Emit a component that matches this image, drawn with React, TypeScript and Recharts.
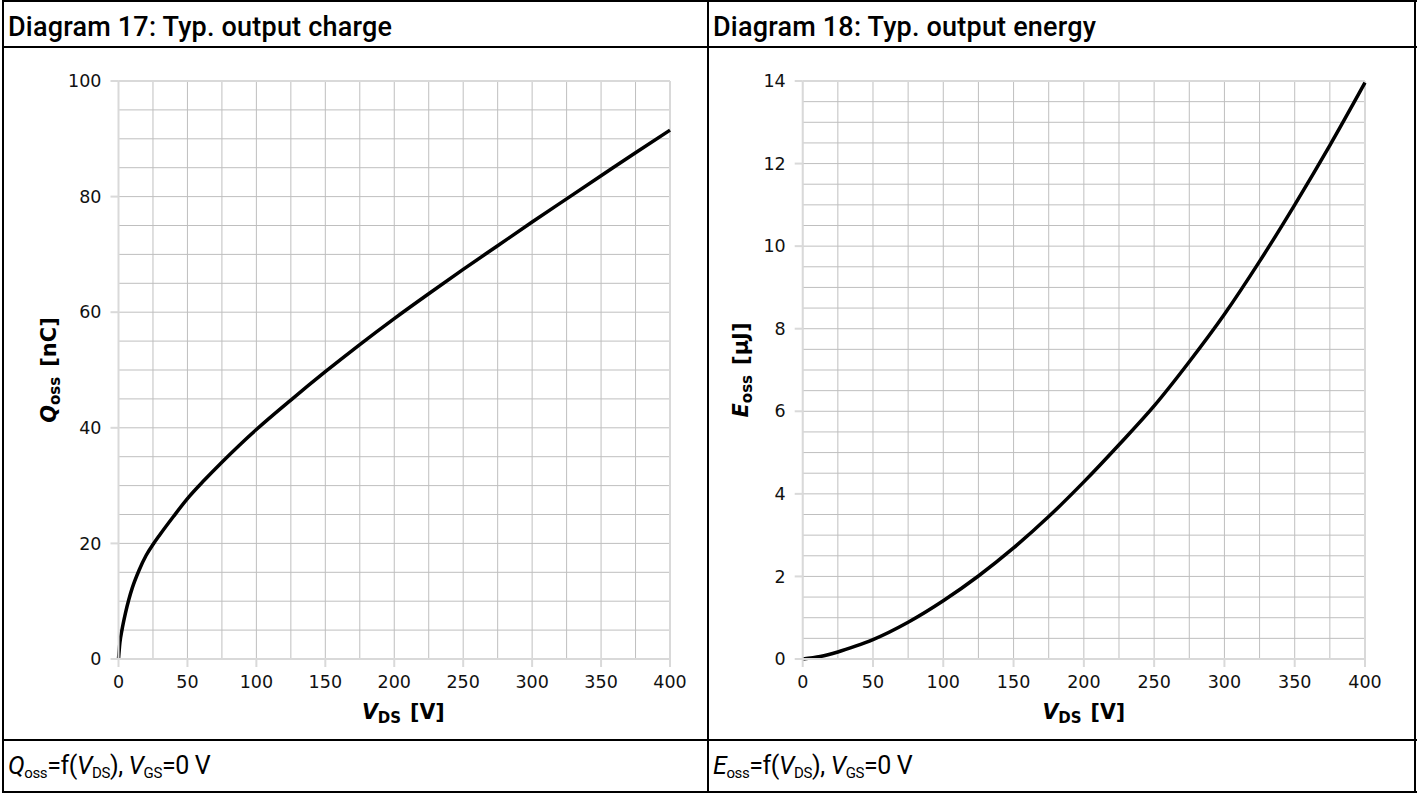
import { LineChart, Line, XAxis, YAxis, CartesianGrid } from "recharts";

// Diagram 17: output charge vs drain-source voltage
const vdsQ = [0, 1, 2.5, 5, 7.5, 10, 15, 20, 25, 30, 40, 50, 62.5, 75, 87.5, 100, 125, 150, 175, 200, 225, 250, 275, 300, 325, 350, 375, 400];
const qoss = [0, 2.8, 5.0, 7.9, 10.3, 12.3, 15.4, 17.9, 19.8, 21.5, 24.7, 27.75, 31.0, 34.05, 36.95, 39.7, 44.8, 49.7, 54.4, 58.9, 63.2, 67.4, 71.5, 75.6, 79.6, 83.6, 87.6, 91.5];

// Diagram 18: output energy vs drain-source voltage
const vdsE = [0, 12.5, 25, 37.5, 50, 75, 100, 125, 150, 175, 200, 225, 250, 275, 300, 325, 350, 375, 400];
const eoss = [0, 0.06, 0.17, 0.31, 0.47, 0.89, 1.41, 2.01, 2.69, 3.45, 4.29, 5.19, 6.13, 7.2, 8.35, 9.63, 11.0, 12.44, 13.96];

const xTicks = [0, 50, 100, 150, 200, 250, 300, 350, 400];
const xMinor = [0, 25, 50, 75, 100, 125, 150, 175, 200, 225, 250, 275, 300, 325, 350, 375, 400];
const qTicks = [0, 20, 40, 60, 80, 100];
const qMinor = [0, 5, 10, 15, 20, 25, 30, 35, 40, 45, 50, 55, 60, 65, 70, 75, 80, 85, 90, 95, 100];
const eTicks = [0, 2, 4, 6, 8, 10, 12, 14];
const eMinor = [0, 0.5, 1, 1.5, 2, 2.5, 3, 3.5, 4, 4.5, 5, 5.5, 6, 6.5, 7, 7.5, 8, 8.5, 9, 9.5, 10, 10.5, 11, 11.5, 12, 12.5, 13, 13.5, 14];

const qData = vdsQ.map((v, i) => ({ v, y: qoss[i] }));
const eData = vdsE.map((v, i) => ({ v, y: eoss[i] }));

const MINOR = "#bfbfbf";
const FRAME = "#d9d9d9";
const TICK_FONT = { fontFamily: "DejaVu Sans", fontSize: 17.5, fill: "#111" };
const COND = "Roboto, 'Noto Sans', sans-serif";

function xTitle(shift: number) {
  return (props: any) => {
    const vb = props.viewBox || {};
    const cx = vb.x + vb.width / 2 + shift;
    return (
      <text x={cx} y={vb.y + 60} textAnchor="middle" fontFamily="DejaVu Sans" fontWeight="bold" fontSize={20.5} fill="#000">
        <tspan fontStyle="italic">V</tspan>
        <tspan fontSize={15} dy={4}>DS</tspan>
        <tspan dy={-4} dx={9}>[V]</tspan>
      </text>
    );
  };
}

function yTitle(sym: string, unit: string, bx: number) {
  return (props: any) => {
    const vb = props.viewBox || {};
    const cy = vb.y + vb.height / 2;
    return (
      <text
        x={bx}
        y={cy}
        textAnchor="middle"
        transform={`rotate(-90, ${bx}, ${cy})`}
        fontFamily="DejaVu Sans"
        fontWeight="bold"
        fontSize={21}
        fill="#000"
      >
        <tspan fontStyle="italic">{sym}</tspan>
        <tspan fontSize={15} dy={4}>oss</tspan>
        <tspan dy={-4} dx={10}>{unit}</tspan>
      </text>
    );
  };
}

interface PanelProps {
  data: { v: number; y: number }[];
  width: number;
  height: number;
  margin: { top: number; right: number; bottom: number; left: number };
  yWidth: number;
  yTicks: number[];
  yMinor: number[];
  yMax: number;
  yLabel: (p: any) => any;
  xLabel: (p: any) => any;
}

function Panel({ data, width, height, margin, yWidth, yTicks, yMinor, yMax, yLabel, xLabel }: PanelProps) {
  return (
    <LineChart width={width} height={height} data={data} margin={margin}>
      <CartesianGrid stroke={MINOR} strokeWidth={1} horizontalValues={yMinor} verticalValues={xMinor} />
      <CartesianGrid stroke={FRAME} strokeWidth={2} horizontalValues={[yMax]} verticalValues={[400]} />
      <XAxis
        dataKey="v"
        type="number"
        domain={[0, 400]}
        ticks={xTicks}
        interval={0}
        height={80}
        stroke={FRAME}
        strokeWidth={2}
        tickSize={8}
        tickMargin={9}
        tick={TICK_FONT}
        label={xLabel}
      />
      <YAxis
        type="number"
        domain={[0, yMax]}
        ticks={yTicks}
        interval={0}
        width={yWidth}
        stroke={FRAME}
        strokeWidth={2}
        tickSize={8}
        tickMargin={9}
        tick={TICK_FONT}
        label={yLabel}
      />
      <Line type="monotone" dataKey="y" stroke="#000" strokeWidth={3.5} dot={false} isAnimationActive={false} />
    </LineChart>
  );
}

const hLine = (top: number, left: number, width: number) => (
  <div style={{ position: "absolute", top, left, width, height: 2, background: "#000" }} />
);
const vLine = (left: number, top: number, height: number) => (
  <div style={{ position: "absolute", top, left, width: 2, height, background: "#000" }} />
);

const sub = { fontSize: 15, verticalAlign: "-4px" } as const;
const titleStyle = { position: "absolute", top: 11, fontFamily: COND, fontWeight: 500, fontSize: 27, letterSpacing: 0.2, lineHeight: "32px", color: "#000" } as const;
const noteStyle = { position: "absolute", top: 750, fontFamily: COND, fontSize: 25, letterSpacing: -0.4, lineHeight: "32px", color: "#000" } as const;

export default function App() {
  return (
    <div style={{ position: "absolute", left: 0, top: 0, width: 1417, height: 793, background: "#fff", overflow: "hidden" }}>
      {hLine(0, 2, 1415)}
      {hLine(46, 2, 1415)}
      {hLine(739, 2, 1415)}
      {hLine(791, 2, 1415)}
      {vLine(2, 0, 793)}
      {vLine(707, 0, 793)}
      {vLine(1414, 0, 793)}

      <div style={{ ...titleStyle, left: 8 }}>Diagram 17: Typ. output charge</div>
      <div style={{ ...titleStyle, left: 713 }}>Diagram 18: Typ. output energy</div>

      <div style={{ position: "absolute", left: 4, top: 48 }}>
        <Panel
          data={qData}
          width={703}
          height={691}
          margin={{ top: 33, right: 37, bottom: 0, left: 0 }}
          yWidth={114.5}
          yTicks={qTicks}
          yMinor={qMinor}
          yMax={100}
          yLabel={yTitle("Q", "[nC]", 52)}
          xLabel={xTitle(9)}
        />
      </div>
      <div style={{ position: "absolute", left: 709, top: 48 }}>
        <Panel
          data={eData}
          width={705}
          height={691}
          margin={{ top: 33, right: 49, bottom: 0, left: 0 }}
          yWidth={93.7}
          yTicks={eTicks}
          yMinor={eMinor}
          yMax={14}
          yLabel={yTitle("E", "[µJ]", 39)}
          xLabel={xTitle(0)}
        />
      </div>

      <div style={{ ...noteStyle, left: 8 }}>
        <i>Q</i><span style={sub}>oss</span>=f(<i>V</i><span style={sub}>DS</span>), <i>V</i><span style={sub}>GS</span>=0 V
      </div>
      <div style={{ ...noteStyle, left: 713 }}>
        <i>E</i><span style={sub}>oss</span>=f(<i>V</i><span style={sub}>DS</span>), <i>V</i><span style={sub}>GS</span>=0 V
      </div>
    </div>
  );
}
